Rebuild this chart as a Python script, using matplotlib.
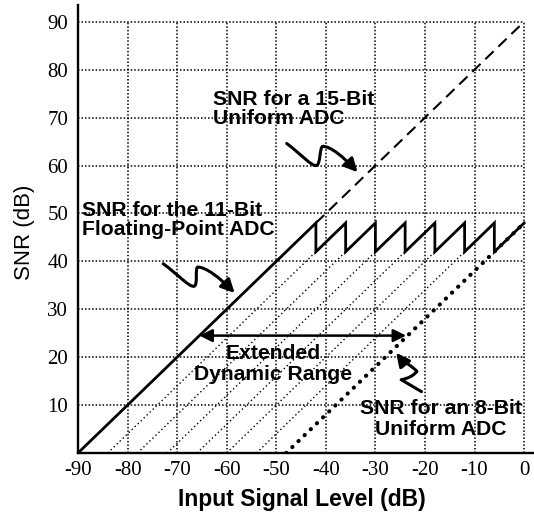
import numpy as np
import matplotlib
matplotlib.use('Agg')
import matplotlib.pyplot as plt
from matplotlib.path import Path
from matplotlib.patches import FancyArrowPatch

# 11-bit floating point ADC: ramp then sawtooth (dB)
fp_x = [-90, -42, -42, -36, -36, -30, -30, -24, -24, -18, -18, -12, -12, -6, -6, 0]
fp_y = [0, 48, 42, 48, 42, 48, 42, 48, 42, 48, 42, 48, 42, 48, 42, 48]

# 15-bit uniform ADC (dashed part above the floating point curve)
u15_x = [-42, 0]
u15_y = [48, 90]

# 8-bit uniform ADC
u8_x = [-48, 0]
u8_y = [0, 48]

# hatch lines inside the extended dynamic range (x intercepts at SNR=0)
hatch_start = [-84, -78, -72, -66, -60, -54]
hatch_top = 42

xticks = [-90, -80, -70, -60, -50, -40, -30, -20, -10, 0]
yticks = [10, 20, 30, 40, 50, 60, 70, 80, 90]

# squiggle arrows: start, bottom corner, hump, tip
sq_15 = [(-47.9, 64.6), (-41.9, 60.0), (-40.6, 64.0), (-33.6, 58.6)]
sq_fp = [(-72.8, 39.5), (-66.6, 34.8), (-65.8, 38.8), (-58.4, 33.4)]
sq_8 = [(-20.7, 12.8), (-24.8, 15.3), (-21.7, 17.0), (-25.8, 20.9)]

# extended dynamic range arrow
edr_x = [-65.5, -23.8]
edr_y = 24.5

sans = ['Liberation Sans', 'DejaVu Sans']
serif = ['Liberation Serif', 'DejaVu Serif']

fig = plt.figure(figsize=(5.34, 5.14), dpi=100)
ax = fig.add_axes([78 / 534, 61 / 514, 456 / 534, 448 / 514])
ax.set_xlim(-90, 2)
ax.set_ylim(0, 93.5)

# grid drawn by hand so it stops at 0 dB / 90 dB
grid_ls = (0, (1, 1.3))
ax.hlines(yticks, -90, 0, colors='k', lw=1.1, linestyles=[grid_ls], zorder=1)
ax.vlines(xticks[1:], 0, 90, colors='k', lw=1.1, linestyles=[grid_ls], zorder=1)

# hatch lines
for x0 in hatch_start:
    ax.plot([x0, x0 + hatch_top], [0, hatch_top], color='k', lw=1.0,
            ls=(0, (1, 2.0)), zorder=2)

ax.plot(u15_x, u15_y, color='k', lw=1.5, ls=(0, (5.5, 3.2)), zorder=3)
ax.plot(u8_x, u8_y, color='k', lw=3.0, ls=(0, (0.05, 2.0)),
        dash_capstyle='round', zorder=3)
ax.plot(fp_x, fp_y, color='k', lw=2.0, solid_joinstyle='miter', zorder=4)


def squiggle(pts):
    (x0, y0), (x1, y1), (x2, y2), (x3, y3) = pts
    verts = [(x0, y0),
             (x0 + 0.5 * (x1 - x0), y0 + 0.5 * (y1 - y0)), (x1 - 1.0, y1 - 0.2), (x1, y1),
             (x1 + 0.9, y1 + 0.2), (x2 - 0.7, y2), (x2, y2),
             (x2 + 1.6, y2), (x3 - 0.4 * (x3 - x2), y3 - 0.4 * (y3 - y2) + 1.0), (x3, y3)]
    codes = [Path.MOVETO] + [Path.CURVE4] * 9
    return Path(verts, codes)


def squiggle8(pts):
    (x0, y0), (x1, y1), (x2, y2), (x3, y3) = pts
    verts = [(x0, y0), (x1, y1),
             (x2 - 0.3, y2 - 1.2), (x2 + 0.3, y2 + 0.5), (x2, y2),
             (x2 - 0.3, y2 + 0.8), (x3 + 1.5, y3 - 2.0), (x3, y3)]
    codes = [Path.MOVETO, Path.LINETO] + [Path.CURVE4] * 6
    return Path(verts, codes)


for p in (squiggle(sq_15), squiggle(sq_fp), squiggle8(sq_8)):
    arr = FancyArrowPatch(path=p, arrowstyle='-|>', mutation_scale=20,
                          color='k', lw=2.2, zorder=5)
    ax.add_patch(arr)

ax.annotate('', xy=(edr_x[0], edr_y), xytext=(edr_x[1], edr_y),
            arrowprops=dict(arrowstyle='<|-|>', color='k', lw=1.8,
                            mutation_scale=19, shrinkA=0, shrinkB=0),
            zorder=5)

tkw = dict(family=sans, fontweight='bold', fontsize=15.2, color='k',
           linespacing=1.0, zorder=6)
ax.text(-62.8, 71.7, 'SNR for a 15-Bit\nUniform ADC', ha='left', va='center', **tkw)
ax.text(-89.2, 48.7, 'SNR for the 11-Bit\nFloating-Point ADC', ha='left', va='center', **tkw)
ax.text(-50.7, 18.6, 'Extended\nDynamic Range', ha='center', va='center',
        **{**tkw, 'linespacing': 1.1})
ax.text(-16.8, 7.1, 'SNR for an 8-Bit\nUniform ADC', ha='center', va='center',
        **{**tkw, 'linespacing': 1.1})

ax.set_xticks(xticks)
ax.set_yticks(yticks)
ax.set_xticklabels([str(v) for v in xticks], family=serif, fontsize=15)
ax.set_yticklabels([str(v) for v in yticks], family=serif, fontsize=15)
ax.tick_params(axis='x', length=0, pad=6)
ax.tick_params(axis='y', length=0, pad=7)

for s in ('top', 'right'):
    ax.spines[s].set_visible(False)
for s in ('left', 'bottom'):
    ax.spines[s].set_linewidth(1.7)

ax.set_xlabel('Input Signal Level (dB)', family=sans, fontweight='bold', fontsize=16.5)
ax.set_ylabel('SNR (dB)', family=sans, fontsize=16)
ax.xaxis.label.set_va('center')
ax.yaxis.label.set_va('center')
ax.xaxis.set_label_coords(0.491, -0.103)
ax.yaxis.set_label_coords(-0.118, 0.493)

fig.savefig('out.png', dpi=100)
